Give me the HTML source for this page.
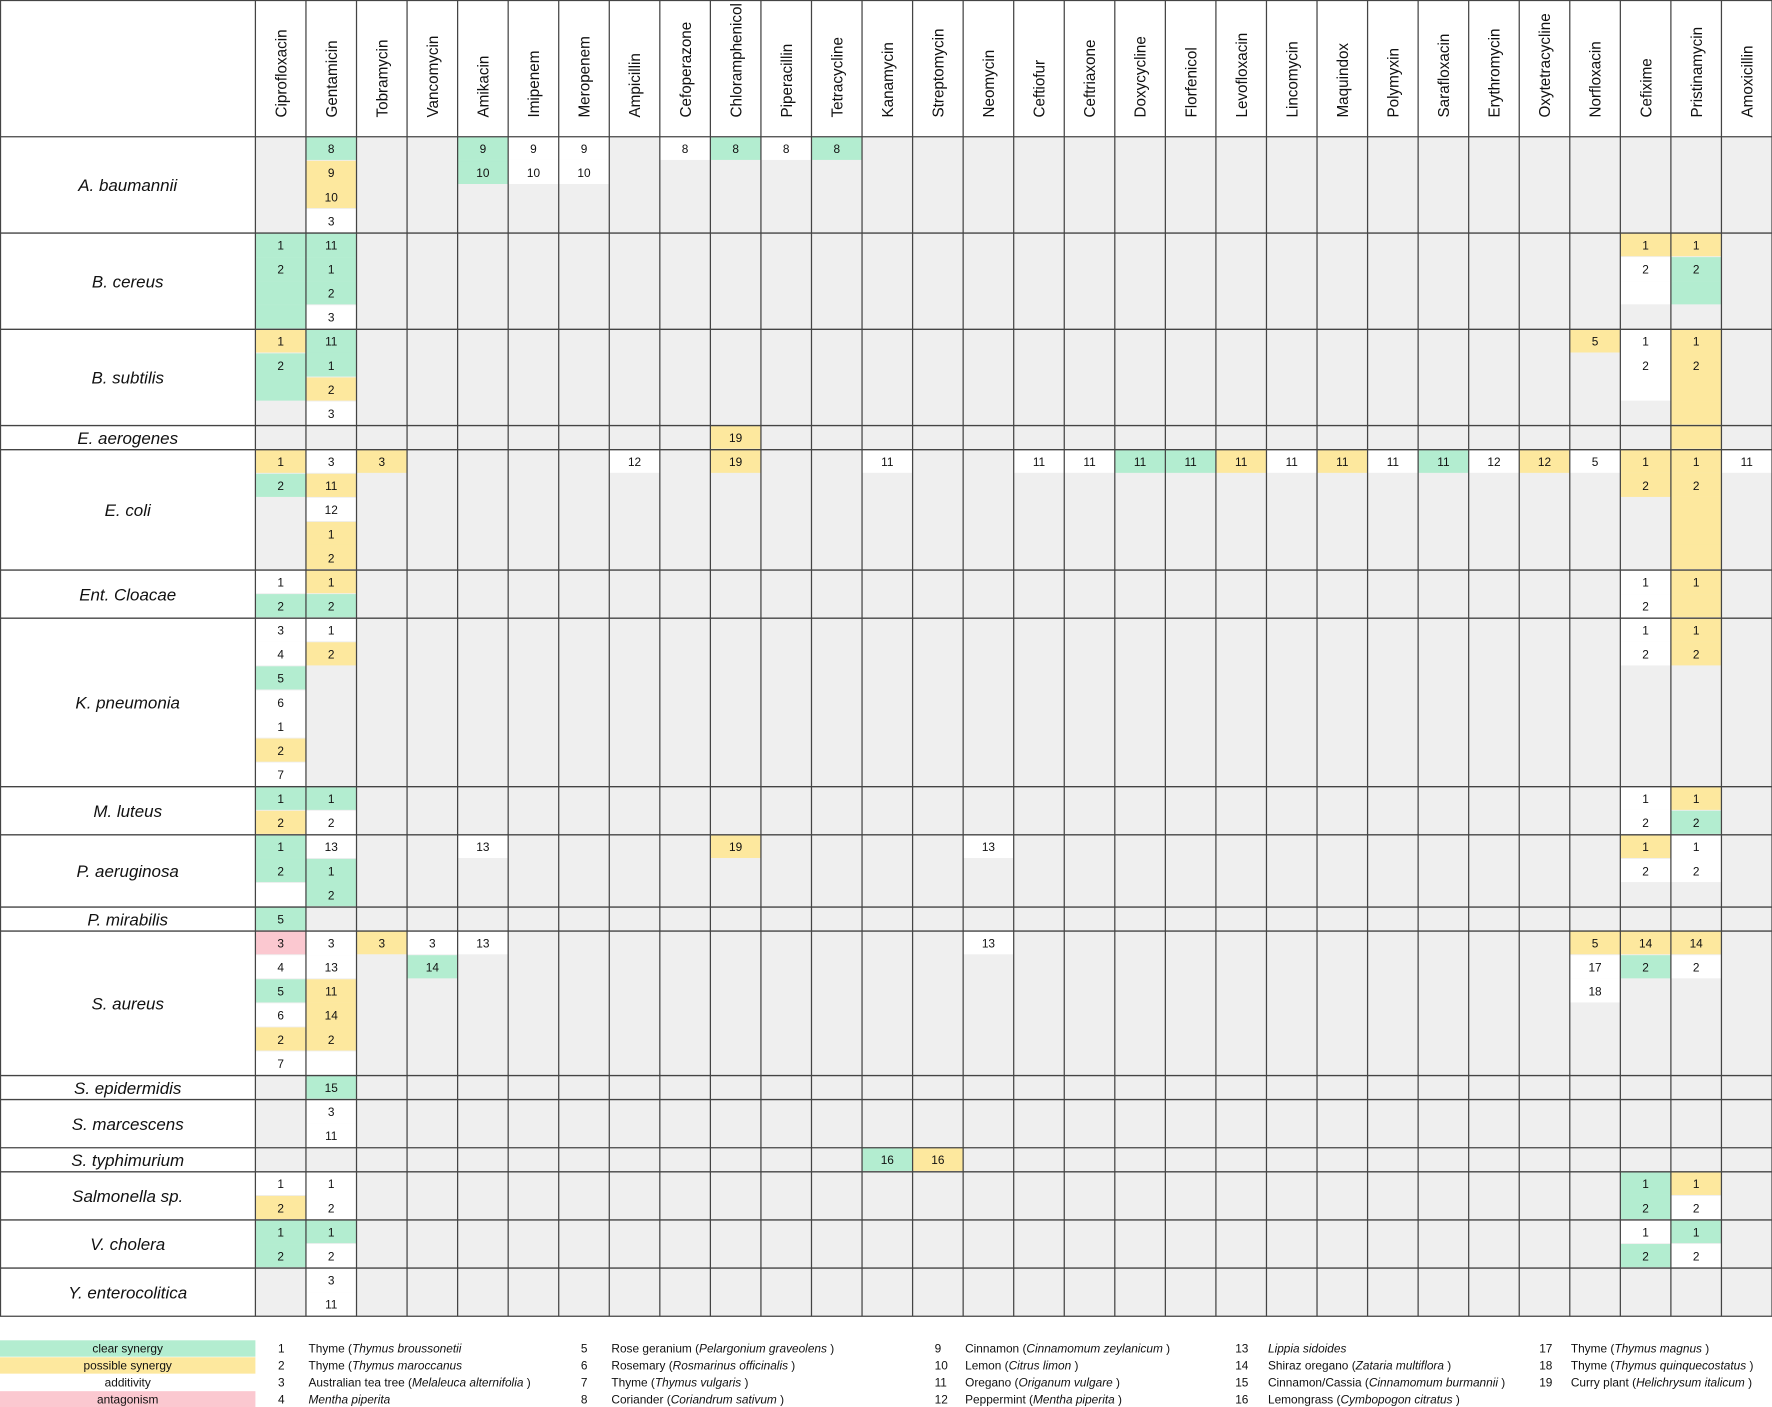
<!DOCTYPE html>
<html><head><meta charset="utf-8"><style>
html,body{margin:0;padding:0;background:#fff;}
svg{display:block;font-family:"Liberation Sans",sans-serif;}
</style></head><body>
<svg id="s" width="1772" height="1407" viewBox="0 0 1568 1245" xmlns="http://www.w3.org/2000/svg">
<rect x="0" y="0" width="1568" height="1245" fill="#fff"/>
<g id="g"></g>
<g font-size="10.5" fill="#111">
<rect x="0" y="1186" width="226" height="14.5" fill="#b3edd0"/>
<rect x="0" y="1201" width="226" height="14.5" fill="#fde89e"/>
<rect x="0" y="1231" width="226" height="14.5" fill="#fbc8d0"/>
<g text-anchor="middle">
<text x="113" y="1197">clear synergy</text>
<text x="113" y="1212">possible synergy</text>
<text x="113" y="1227">additivity</text>
<text x="113" y="1242">antagonism</text>
</g>
<text x="246" y="1197">1</text><text x="273" y="1197">Thyme (<tspan font-style="italic">Thymus broussonetii</tspan></text>
<text x="246" y="1212">2</text><text x="273" y="1212">Thyme (<tspan font-style="italic">Thymus maroccanus</tspan></text>
<text x="246" y="1227">3</text><text x="273" y="1227">Australian tea tree (<tspan font-style="italic">Melaleuca alternifolia</tspan> )</text>
<text x="246" y="1242">4</text><text x="273" y="1242" font-style="italic">Mentha piperita</text>
<text x="514" y="1197">5</text><text x="541" y="1197">Rose geranium (<tspan font-style="italic">Pelargonium graveolens</tspan> )</text>
<text x="514" y="1212">6</text><text x="541" y="1212">Rosemary (<tspan font-style="italic">Rosmarinus officinalis</tspan> )</text>
<text x="514" y="1227">7</text><text x="541" y="1227">Thyme (<tspan font-style="italic">Thymus vulgaris</tspan> )</text>
<text x="514" y="1242">8</text><text x="541" y="1242">Coriander (<tspan font-style="italic">Coriandrum sativum</tspan> )</text>
<text x="827" y="1197">9</text><text x="854" y="1197">Cinnamon (<tspan font-style="italic">Cinnamomum zeylanicum</tspan> )</text>
<text x="827" y="1212">10</text><text x="854" y="1212">Lemon (<tspan font-style="italic">Citrus limon</tspan> )</text>
<text x="827" y="1227">11</text><text x="854" y="1227">Oregano (<tspan font-style="italic">Origanum vulgare</tspan> )</text>
<text x="827" y="1242">12</text><text x="854" y="1242">Peppermint (<tspan font-style="italic">Mentha piperita</tspan> )</text>
<text x="1093" y="1197">13</text><text x="1122" y="1197" font-style="italic">Lippia sidoides</text>
<text x="1093" y="1212">14</text><text x="1122" y="1212">Shiraz oregano (<tspan font-style="italic">Zataria multiflora</tspan> )</text>
<text x="1093" y="1227">15</text><text x="1122" y="1227">Cinnamon/Cassia (<tspan font-style="italic">Cinnamomum burmannii</tspan> )</text>
<text x="1093" y="1242">16</text><text x="1122" y="1242">Lemongrass (<tspan font-style="italic">Cymbopogon citratus</tspan> )</text>
<text x="1362" y="1197">17</text><text x="1390" y="1197">Thyme (<tspan font-style="italic">Thymus magnus</tspan> )</text>
<text x="1362" y="1212">18</text><text x="1390" y="1212">Thyme (<tspan font-style="italic">Thymus quinquecostatus</tspan> )</text>
<text x="1362" y="1227">19</text><text x="1390" y="1227">Curry plant (<tspan font-style="italic">Helichrysum italicum</tspan> )</text>
</g>
</svg>
<script>
var cols=["Ciprofloxacin","Gentamicin","Tobramycin","Vancomycin","Amikacin","Imipenem","Meropenem","Ampicillin","Cefoperazone","Chloramphenicol","Piperacillin","Tetracycline","Kanamycin","Streptomycin","Neomycin","Ceftiofur","Ceftriaxone","Doxycycline","Florfenicol","Levofloxacin","Lincomycin","Maquindox","Polymyxin","Sarafloxacin","Erythromycin","Oxytetracycline","Norfloxacin","Cefixime","Pristinamycin","Amoxicillin"];
var ci={};cols.forEach(function(c,i){ci[c]=i;});
function p(s){return s.split(",").map(function(t){var m=t.match(/^(\d*)([gywp])$/);return [m[1],m[2]];});}
var rows=[
["A. baumannii",4,{Gentamicin:"8g,9y,10y,3w",Amikacin:"9g,10g",Imipenem:"9w,10w",Meropenem:"9w,10w",Cefoperazone:"8w",Chloramphenicol:"8g",Piperacillin:"8w",Tetracycline:"8g"}],
["B. cereus",4,{Ciprofloxacin:"1g,2g,g,g",Gentamicin:"11g,1g,2g,3w",Cefixime:"1y,2w,w",Pristinamycin:"1y,2g,g"}],
["B. subtilis",4,{Ciprofloxacin:"1y,2g,g",Gentamicin:"11g,1g,2y,3w",Norfloxacin:"5y",Cefixime:"1w,2w,w",Pristinamycin:"1y,2y,y,y"}],
["E. aerogenes",1,{Chloramphenicol:"19y",Pristinamycin:"y"}],
["E. coli",5,{Ciprofloxacin:"1y,2g",Gentamicin:"3w,11y,12w,1y,2y",Tobramycin:"3y",Ampicillin:"12w",Chloramphenicol:"19y",Kanamycin:"11w",Ceftiofur:"11w",Ceftriaxone:"11w",Doxycycline:"11g",Florfenicol:"11g",Levofloxacin:"11y",Lincomycin:"11w",Maquindox:"11y",Polymyxin:"11w",Sarafloxacin:"11g",Erythromycin:"12w",Oxytetracycline:"12y",Norfloxacin:"5w",Cefixime:"1y,2y",Pristinamycin:"1y,2y,y,y,y",Amoxicillin:"11w"}],
["Ent. Cloacae",2,{Ciprofloxacin:"1w,2g",Gentamicin:"1y,2g",Cefixime:"1w,2w",Pristinamycin:"1y,y"}],
["K. pneumonia",7,{Ciprofloxacin:"3w,4w,5g,6w,1w,2y,7w",Gentamicin:"1w,2y",Cefixime:"1w,2w",Pristinamycin:"1y,2y"}],
["M. luteus",2,{Ciprofloxacin:"1g,2y",Gentamicin:"1g,2w",Cefixime:"1w,2w",Pristinamycin:"1y,2g"}],
["P. aeruginosa",3,{Ciprofloxacin:"1g,2g,w",Gentamicin:"13w,1g,2g",Amikacin:"13w",Chloramphenicol:"19y",Neomycin:"13w",Cefixime:"1y,2w",Pristinamycin:"1w,2w"}],
["P. mirabilis",1,{Ciprofloxacin:"5g"}],
["S. aureus",6,{Ciprofloxacin:"3p,4w,5g,6w,2y,7w",Gentamicin:"3w,13w,11y,14y,2y,w",Tobramycin:"3y",Vancomycin:"3w,14g",Amikacin:"13w",Neomycin:"13w",Norfloxacin:"5y,17w,18w",Cefixime:"14y,2g",Pristinamycin:"14y,2w"}],
["S. epidermidis",1,{Gentamicin:"15g"}],
["S. marcescens",2,{Gentamicin:"3w,11w"}],
["S. typhimurium",1,{Kanamycin:"16g",Streptomycin:"16y"}],
["Salmonella sp.",2,{Ciprofloxacin:"1w,2y",Gentamicin:"1w,2w",Cefixime:"1g,2g",Pristinamycin:"1y,2w"}],
["V. cholera",2,{Ciprofloxacin:"1g,2g",Gentamicin:"1g,2w",Cefixime:"1w,2g",Pristinamycin:"1g,2w"}],
["Y. enterocolitica",2,{Gentamicin:"3w,11w"}]
];
var col={g:"#b3edd0",y:"#fde89e",w:"#ffffff",p:"#fbc8d0"};
var X0=226,CW=(1568-226)/30,Y0=121,H=21.3;
var o=[];
var totalH=Y0;rows.forEach(function(r){totalH+=r[1]*H;});
o.push('<rect x="'+X0+'" y="'+Y0+'" width="'+(1568-X0)+'" height="'+(totalH-Y0)+'" fill="#efefef"/>');
var y=Y0,hl=[];
rows.forEach(function(r){
  var h=r[1]*H;
  o.push('<text x="113" y="'+(y+h/2+5.5)+'" text-anchor="middle" font-size="15" font-style="italic" fill="#111">'+r[0]+'</text>');
  for(var k in r[2]){
    var c=ci[k],x=X0+c*CW,cells=p(r[2][k]);
    cells.forEach(function(cl,j){
      var yy=y+j*H;
      o.push('<rect x="'+x+'" y="'+yy+'" width="'+CW+'" height="'+(H-0.8)+'" fill="'+col[cl[1]]+'"/>');
      if(j>0&&cells[j-1][1]==cl[1])o.push('<rect x="'+x+'" y="'+(yy-1)+'" width="'+CW+'" height="1.2" fill="'+col[cl[1]]+'"/>');
      if(cl[0])o.push('<text x="'+(x+CW/2)+'" y="'+(yy+14.5)+'" text-anchor="middle" font-size="10.5" fill="#111">'+cl[0]+'</text>');
    });
  }
  y+=h;hl.push(y);
});
o.push('<line x1="0" y1="0.5" x2="1568" y2="0.5" stroke="#444" stroke-width="1"/>');
o.push('<line x1="0" y1="'+Y0+'" x2="1568" y2="'+Y0+'" stroke="#444" stroke-width="1.2"/>');
hl.forEach(function(v){o.push('<line x1="0" y1="'+v+'" x2="1568" y2="'+v+'" stroke="#444" stroke-width="1.2"/>');});
o.push('<line x1="0.5" y1="0" x2="0.5" y2="'+totalH+'" stroke="#444"/>');
for(var i=0;i<=30;i++){var xx=X0+i*CW;o.push('<line x1="'+xx+'" y1="0" x2="'+xx+'" y2="'+totalH+'" stroke="#444" stroke-width="1.1"/>');}
cols.forEach(function(c,i){var cx=X0+i*CW+CW/2+5;o.push('<text transform="translate('+cx+',104) rotate(-90)" font-size="13.5" fill="#111">'+c+'</text>');});
document.getElementById("g").innerHTML=o.join("");
</script>
</body></html>
